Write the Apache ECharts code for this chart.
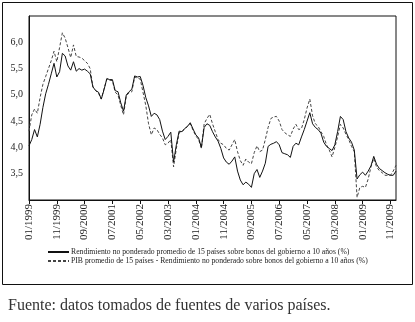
<!DOCTYPE html>
<html>
<head>
<meta charset="utf-8">
<script src="https://cdn.jsdelivr.net/npm/echarts@6/dist/echarts.min.js"></script>
<style>
html,body{margin:0;padding:0;background:#fff;}
#chart{width:415px;height:322px;}
</style>
</head>
<body>
<div id="chart"></div>
<script>
// Monthly categories 01/1999 .. 01/2010
var categories = [];
for (var y = 1999; y <= 2010; y++) {
  for (var m = 1; m <= 12; m++) {
    if (y === 2010 && m > 1) break;
    categories.push((m < 10 ? '0' + m : '' + m) + '/' + y);
  }
}

var seriesNames = [
  'Rendimiento no ponderado promedio de 15 países sobre bonos del gobierno a 10 años (%)',
  'PIB promedio de 15 países - Rendimiento no ponderado sobre bonos del gobierno a 10 años (%)'
];

var unweighted = [
  4.03,4.15,4.34,4.20,4.44,4.76,5.02,5.20,5.40,5.60,5.34,5.44,
  5.79,5.74,5.55,5.47,5.63,5.45,5.50,5.47,5.49,5.45,5.40,5.15,
  5.08,5.05,4.92,5.10,5.31,5.29,5.29,5.08,5.06,4.85,4.69,5.00,
  5.06,5.11,5.36,5.34,5.35,5.18,4.95,4.79,4.59,4.65,4.62,4.53,
  4.31,4.15,4.21,4.29,3.72,4.05,4.31,4.30,4.36,4.40,4.47,4.35,
  4.24,4.18,4.00,4.38,4.45,4.42,4.30,4.20,4.12,3.98,3.80,3.72,
  3.68,3.74,3.82,3.55,3.38,3.29,3.34,3.30,3.24,3.50,3.58,3.43,
  3.55,3.70,4.02,4.06,4.08,4.11,4.05,3.90,3.88,3.86,3.81,4.02,
  4.08,4.05,4.20,4.34,4.50,4.66,4.45,4.38,4.34,4.27,4.10,4.02,
  3.98,3.94,4.05,4.30,4.59,4.53,4.30,4.18,4.10,3.95,3.40,3.48,
  3.53,3.47,3.55,3.65,3.83,3.68,3.60,3.56,3.52,3.49,3.47,3.47,
  3.55
];

var gdpWeighted = [
  4.31,4.62,4.73,4.65,4.95,5.20,5.35,5.50,5.65,5.83,5.63,5.90,
  6.18,6.08,5.90,5.71,5.95,5.73,5.72,5.70,5.65,5.60,5.50,5.15,
  5.08,5.03,4.92,5.12,5.30,5.28,5.27,5.05,5.00,4.80,4.62,4.98,
  5.04,5.06,5.34,5.32,5.30,5.05,4.80,4.45,4.24,4.37,4.34,4.25,
  4.18,4.05,4.08,4.15,3.63,3.98,4.28,4.30,4.35,4.40,4.45,4.33,
  4.22,4.15,3.98,4.45,4.55,4.63,4.45,4.30,4.15,4.08,4.05,3.98,
  3.95,4.05,4.15,3.92,3.75,3.66,3.78,3.72,3.69,3.90,4.03,3.92,
  3.95,4.15,4.38,4.55,4.58,4.59,4.50,4.34,4.28,4.24,4.21,4.35,
  4.44,4.34,4.36,4.53,4.75,4.92,4.60,4.45,4.40,4.30,4.21,4.05,
  3.95,3.82,4.00,4.20,4.44,4.37,4.25,4.15,4.02,3.92,3.05,3.24,
  3.26,3.24,3.40,3.63,3.79,3.63,3.56,3.52,3.47,3.47,3.47,3.55,
  3.66
];

var sourceText = 'Fuente: datos tomados de fuentes de varios países.';

var chart = echarts.init(document.getElementById('chart'), null, {renderer: 'canvas'});
var serif = "'Liberation Serif', 'DejaVu Serif', serif";

chart.setOption({
  animation: false,
  backgroundColor: '#fff',
  textStyle: {fontFamily: serif},
  title: {
    text: sourceText,
    left: 3,
    top: 293,
    textStyle: {fontFamily: serif, fontSize: 16, fontWeight: 'normal', color: '#333'}
  },
  graphic: [{
    type: 'rect',
    z: -1,
    silent: true,
    shape: {x: 2.5, y: 2.5, width: 410, height: 282},
    style: {fill: 'none', stroke: '#111', lineWidth: 1}
  }],
  legend: {
    orient: 'vertical',
    left: 47,
    top: 248,
    itemWidth: 21,
    itemHeight: 8,
    itemGap: 1,
    padding: 0,
    itemStyle: {color: 'rgba(0,0,0,0)', borderWidth: 0, borderColor: 'rgba(0,0,0,0)'},
    textStyle: {fontFamily: serif, fontSize: 7.7, color: '#222', padding: [0, 0, 0, -3]},
    data: seriesNames
  },
  grid: {
    left: 29, right: 19, top: 16, bottom: 122,
    show: true, borderColor: '#111', borderWidth: 1, backgroundColor: 'transparent'
  },
  xAxis: {
    type: 'category',
    boundaryGap: false,
    data: categories,
    axisLine: {show: true, lineStyle: {color: '#111', width: 1}},
    axisTick: {show: true, interval: 9, length: 4, inside: false, lineStyle: {color: '#111'}},
    axisLabel: {
      interval: 9, rotate: 90, margin: 4,
      fontFamily: serif, fontSize: 11, color: '#222'
    },
    splitLine: {show: false}
  },
  yAxis: {
    type: 'value',
    min: 3, max: 6.5, interval: 0.5,
    axisLine: {show: true, lineStyle: {color: '#111', width: 1}},
    axisTick: {show: false},
    splitLine: {show: false},
    axisLabel: {
      showMinLabel: false, showMaxLabel: false, margin: 6,
      fontFamily: serif, fontSize: 10, color: '#222',
      formatter: function (v) { return v.toFixed(1).replace('.', ','); }
    }
  },
  series: [{
    name: seriesNames[0],
    type: 'line',
    data: unweighted,
    symbol: 'none',
    showSymbol: false,
    lineStyle: {color: '#111', width: 1, type: 'solid'},
    itemStyle: {color: '#111'},
    z: 3
  }, {
    name: seriesNames[1],
    type: 'line',
    data: gdpWeighted,
    symbol: 'none',
    showSymbol: false,
    lineStyle: {color: '#444', width: 1, type: [3, 2]},
    itemStyle: {color: '#444'},
    z: 2
  }]
});
</script>
</body>
</html>
